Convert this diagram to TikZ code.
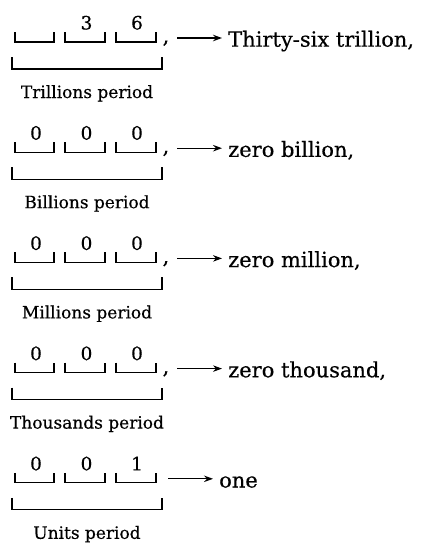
\documentclass[tikz,border=0pt]{standalone}
\usepackage{fontspec}
\setmainfont{DejaVu Serif}
\newfontfamily\heavyserif{DejaVu Serif}[FakeBold=0.4]
\usetikzlibrary{arrows.meta}
\tikzset{
  bracketline/.style={line width=1.2pt, line cap=butt},
  digittext/.style={inner sep=0pt, anchor=base, font=\heavyserif\fontsize{18.5}{22}\selectfont},
  periodlabel/.style={inner sep=0pt, anchor=base, font=\heavyserif\fontsize{17}{20}\selectfont},
  wordtext/.style={inner sep=3pt, anchor=base west, font=\heavyserif\fontsize{21}{25}\selectfont},
  commatext/.style={inner sep=0pt, anchor=base, font=\heavyserif\fontsize{21}{25}\selectfont},
  readarrow/.style={line width=1.2pt, -{Stealth[length=9pt,width=6.5pt]}, shorten >=3pt}
}
\begin{document}
\begin{tikzpicture}[x=1pt,y=-1pt]
\useasboundingbox[fill=white] (0,0) rectangle (431,552);
\foreach \r/\da/\db/\dc/\lab in {0//3/6/Trillions period,1/0/0/0/Billions period,2/0/0/0/Millions period,3/0/0/0/Thousands period,4/0/0/1/Units period}{
  \pgfmathsetmacro\yy{42+110.2*\r}
  \draw[bracketline] (15,\yy-10) |- (54,\yy) -- (54,\yy-10);
  \draw[bracketline] (65,\yy-10) |- (105,\yy) -- (105,\yy-10);
  \draw[bracketline] (116,\yy-10) |- (156,\yy) -- (156,\yy-10);
  \node[digittext] (da\r) at (36,\yy-12.5) {\da};
  \node[digittext] (db\r) at (86.5,\yy-12.5) {\db};
  \node[digittext] (dc\r) at (137,\yy-12.5) {\dc};
  \draw[bracketline] (12,\yy+15) |- (162,\yy+27) -- (162,\yy+15);
  \node[periodlabel] (l\r) at (87,\yy+56) {\lab};
}
% commas
\node[commatext] (c0) at (166,43) {,};
\node[commatext] (c1) at (166,153.2) {,};
\node[commatext] (c2) at (166,263.4) {,};
\node[commatext] (c3) at (166,373.6) {,};
% word texts
\node[wordtext] (w0) at (225,46.7) {Thirty-six trillion,};
\node[wordtext] (w1) at (225,156.9) {zero billion,};
\node[wordtext] (w2) at (225,267.1) {zero million,};
\node[wordtext] (w3) at (225,377.3) {zero thousand,};
\node[wordtext] (w4) at (216,487.5) {one};
% arrows
\coordinate (s0) at (177,38);
\coordinate (s1) at (177,148.2);
\coordinate (s2) at (177,258.4);
\coordinate (s3) at (177,368.6);
\coordinate (s4) at (168,478.8);
\foreach \i in {0,...,4}{
  \draw[readarrow] (s\i) -- (s\i -| w\i.west);
}
\end{tikzpicture}
\end{document}
